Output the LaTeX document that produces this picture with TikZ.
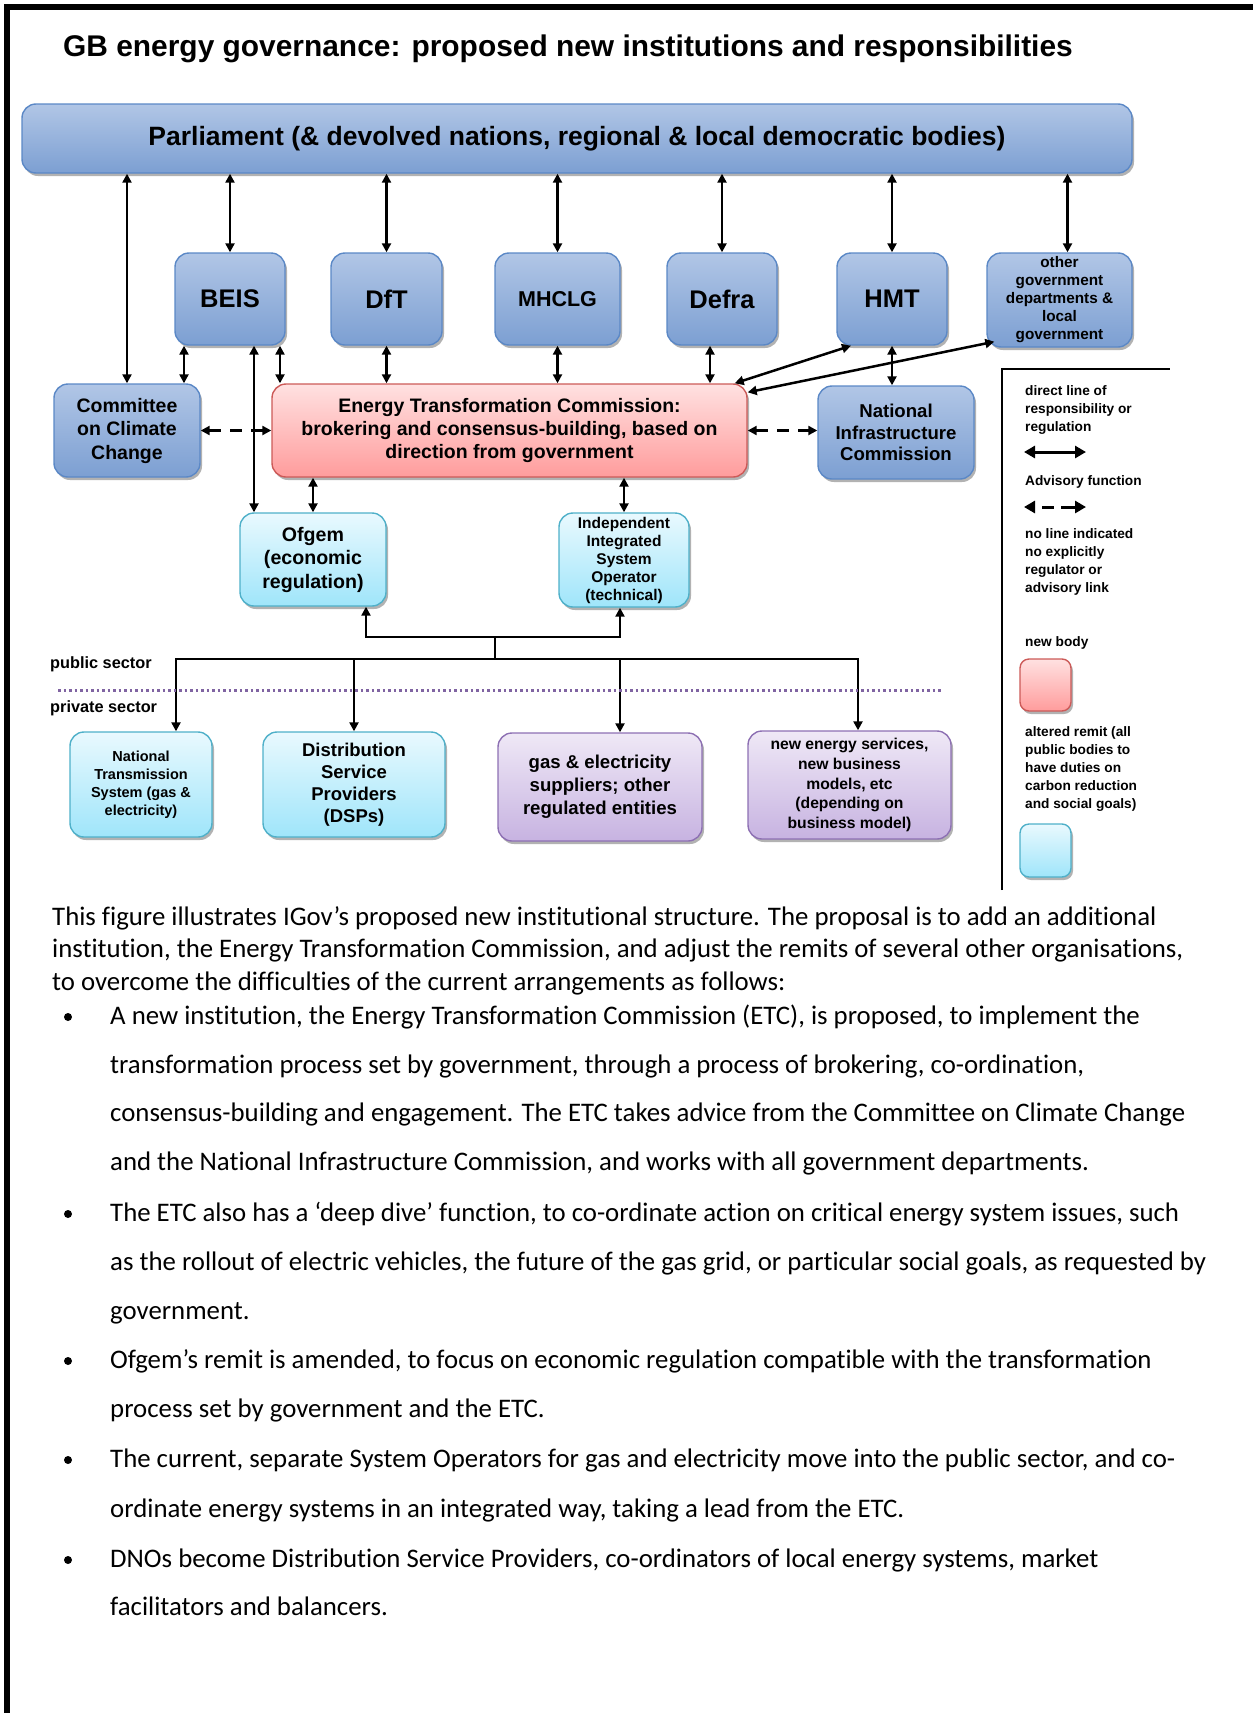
\documentclass[tikz,border=0pt]{standalone}
\usepackage{fontspec}
\setmainfont{Carlito}[Ligatures=NoCommon]
\newfontfamily\arialf{Liberation Sans}
\usetikzlibrary{arrows.meta,shadows}
\definecolor{bluetop}{HTML}{B1C6E6}
\definecolor{bluebot}{HTML}{7C9FD2}
\definecolor{blueedge}{HTML}{5B88C6}
\definecolor{redtop}{HTML}{FFE1E1}
\definecolor{redbot}{HTML}{FF9C9C}
\definecolor{rededge}{HTML}{CC5A58}
\definecolor{cyantop}{HTML}{E9F9FE}
\definecolor{cyanbot}{HTML}{9FE5FA}
\definecolor{cyanedge}{HTML}{4FB0C9}
\definecolor{purptop}{HTML}{EFE8F6}
\definecolor{purpbot}{HTML}{C7B3E1}
\definecolor{purpedge}{HTML}{8D70B3}
\definecolor{dotpurple}{HTML}{8064A2}
\newcommand{\myfs}[2]{\fontsize{#1}{#2}\selectfont}
\begin{document}
\begin{tikzpicture}[x=1pt,y=-1pt,
  >={Triangle[length=9pt,width=9pt]},
  box/.style={rounded corners=14pt, line width=1.4pt, align=center, inner sep=0pt, text=black,
    drop shadow={shadow xshift=2pt,shadow yshift=-3pt,opacity=0.3,fill=black}},
  bluebox/.style={box, draw=blueedge, top color=bluetop, bottom color=bluebot},
  redbox/.style={box, draw=rededge, top color=redtop, bottom color=redbot},
  cyanbox/.style={box, draw=cyanedge, top color=cyantop, bottom color=cyanbot},
  purpbox/.style={box, draw=purpedge, top color=purptop, bottom color=purpbot},
  dbl/.style={<->, line width=2.5pt},
  one/.style={->, line width=2.5pt},
  adv/.style={<->, line width=2.5pt, dash pattern=on 12pt off 9pt},
  legarrow/.style={{Triangle[length=11pt,width=12pt]}-{Triangle[length=11pt,width=12pt]}, line width=3pt},
  legtxt/.style={font=\arialf\bfseries\myfs{13.7}{18}, align=left, inner sep=0pt, anchor=west},
  sect/.style={font=\arialf\bfseries\myfs{16.3}{19}, inner sep=0pt, anchor=west},
  body/.style={font=\myfs{26.8}{32}, anchor=base west, inner sep=0pt},
  bul/.style={circle, fill=black, inner sep=0pt, minimum size=8pt},
]
\useasboundingbox (0,0) rectangle (1253,1713);
% page frame
\draw[line width=6pt] (7,1713) -- (7,7) -- (1253,7);

% title
\node[anchor=west, font=\arialf\bfseries\myfs{29.9}{35}, inner sep=0pt] (title) at (63,49)
  {GB energy governance: proposed new institutions and responsibilities};

% boxes
\node[bluebox, minimum width=1110pt, minimum height=69pt, font=\arialf\bfseries\myfs{26.5}{31}] (parl) at (577,138.5)
  {Parliament (\& devolved nations, regional \& local democratic bodies)};
\node[bluebox, minimum width=110pt, minimum height=92pt, font=\arialf\bfseries\myfs{25.5}{30}] (beis) at (230,299) {BEIS};
\node[bluebox, minimum width=111pt, minimum height=92pt, font=\arialf\bfseries\myfs{25.5}{30}] (dft) at (386.5,299) {DfT};
\node[bluebox, minimum width=125pt, minimum height=92pt, font=\arialf\bfseries\myfs{21.5}{26}] (mhclg) at (557.5,299) {MHCLG};
\node[bluebox, minimum width=110pt, minimum height=92pt, font=\arialf\bfseries\myfs{25.5}{30}] (defra) at (722,299) {Defra};
\node[bluebox, minimum width=110pt, minimum height=92pt, font=\arialf\bfseries\myfs{25.5}{30}] (hmt) at (892,299) {HMT};
\node[bluebox, minimum width=145pt, minimum height=94pt, font=\arialf\bfseries\myfs{15.3}{18}] (other) at (1059.5,300)
  {other\\government\\departments \&\\local\\government};
\node[bluebox, minimum width=146pt, minimum height=93pt, font=\arialf\bfseries\myfs{19.5}{23.5}] (ccc) at (127,430.5)
  {Committee\\on Climate\\Change};
\node[redbox, minimum width=475pt, minimum height=93pt, font=\arialf\bfseries\myfs{19.5}{23}] (etc) at (509.5,430.5)
  {Energy Transformation Commission:\\brokering and consensus-building, based on\\direction from government};
\node[bluebox, minimum width=156pt, minimum height=93pt, font=\arialf\bfseries\myfs{18.6}{21.5}] (nic) at (896,432.5)
  {National\\Infrastructure\\Commission};
\node[cyanbox, minimum width=146pt, minimum height=93pt, font=\arialf\bfseries\myfs{19.6}{23.5}] (ofgem) at (313,559.5)
  {Ofgem\\(economic\\regulation)};
\node[cyanbox, minimum width=130pt, minimum height=94pt, font=\arialf\bfseries\myfs{15.5}{18}] (iso) at (624,560)
  {Independent\\Integrated\\System\\Operator\\(technical)};
\node[cyanbox, minimum width=142pt, minimum height=105pt, font=\arialf\bfseries\myfs{14.5}{18}] (nts) at (141,784.5)
  {National\\Transmission\\System (gas \&\\electricity)};
\node[cyanbox, minimum width=182pt, minimum height=105pt, font=\arialf\bfseries\myfs{18.5}{22}] (dsp) at (354,784.5)
  {Distribution\\Service\\Providers\\(DSPs)};
\node[purpbox, minimum width=204pt, minimum height=108pt, font=\arialf\bfseries\myfs{18.6}{23}] (gas) at (600,787)
  {gas \& electricity\\suppliers; other\\regulated entities};
\node[purpbox, minimum width=203pt, minimum height=108pt, font=\arialf\bfseries\myfs{15.7}{19.7}] (nes) at (849.5,785)
  {new energy services,\\new business\\models, etc\\(depending on\\business model)};

% Parliament links
\foreach \n in {ccc,beis,dft,mhclg,defra,hmt}
  \draw[dbl] (parl.south -| \n.north) -- (\n.north);
\draw[dbl] ([xshift=8pt]other.north |- parl.south) -- ([xshift=8pt]other.north);

% department links
\draw[dbl] ([xshift=-46pt]beis.south) -- ([xshift=-46pt]beis.south |- ccc.north);
\draw[dbl] ([xshift=24pt]beis.south) -- ([xshift=24pt]beis.south |- ofgem.north);
\draw[dbl] ([xshift=50pt]beis.south) -- ([xshift=50pt]beis.south |- etc.north);
\draw[dbl] (dft.south) -- (dft.south |- etc.north);
\draw[dbl] (mhclg.south) -- (mhclg.south |- etc.north);
\draw[dbl] ([xshift=-12pt]defra.south) -- ([xshift=-12pt]defra.south |- etc.north);
\draw[dbl] (hmt.south) -- (hmt.south |- nic.north);
\draw[dbl] ([xshift=-41pt]hmt.south) -- ([xshift=-13pt]etc.north east);
\draw[dbl] ([xshift=8pt,yshift=6pt]other.south west) -- ([yshift=-9pt]etc.north east);

% advisory
\draw[adv] (ccc.east) -- (ccc.east -| etc.west);
\draw[adv] (etc.east) -- (etc.east -| nic.west);

% ETC to regulators
\draw[dbl] (etc.south -| ofgem.north) -- (ofgem.north);
\draw[dbl] (etc.south -| iso.north) -- (iso.north);

% tree
\coordinate (j1) at (495,637);
\coordinate (j2) at (495,659);
\draw[line width=2.5pt] (j2) -- (j1);
\draw[one] (j1) -| ([xshift=53pt]ofgem.south);
\draw[one] (j1) -| ([xshift=-4pt]iso.south);
\draw[one] (j2) -| ([xshift=35pt]nts.north);
\draw[one] (j2) -| (dsp.north);
\draw[one] (j2) -| ([xshift=20pt]gas.north);
\draw[one] (j2) -| ([xshift=8.5pt]nes.north);

% sector divide
\coordinate (d1) at (58,690);
\coordinate (d2) at (941,690);
\draw[dotpurple, line width=3pt, dash pattern=on 2.5pt off 3pt] (d1) -- (d2);
\node[sect] (pub) at (50,664) {public sector};
\node[sect] (priv) at (50,708) {private sector};

% legend
\draw[line width=1.5pt] (1002,890) -- (1002,369) -- (1170,369);
\node[legtxt] (lg1) at (1025,410) {direct line of\\responsibility or\\regulation};
\coordinate (la1) at (1024,452);
\coordinate (la2) at (1086,452);
\draw[legarrow] (la1) -- (la2);
\node[legtxt] (lg2) at (1025,482) {Advisory function};
\coordinate (lb1) at (1024,507);
\coordinate (lb2) at (1086,507);
\draw[legarrow, dash pattern=on 0pt off 8pt on 12pt off 7pt on 16pt off 0pt] (lb1) -- (lb2);
\node[legtxt] (lg3) at (1025,562) {no line indicated\\no explicitly\\regulator or\\advisory link};
\node[legtxt] (lg4) at (1025,643) {new body};
\node[redbox, rounded corners=9pt, minimum width=51pt, minimum height=52pt] (lgred) at (1045.5,685) {};
\node[legtxt] (lg5) at (1025,769) {altered remit (all\\public bodies to\\have duties on\\carbon reduction\\and social goals)};
\node[cyanbox, rounded corners=9pt, minimum width=51pt, minimum height=53pt] (lgcyan) at (1045.5,850.5) {};

% body text
\node[body] (t1) at (52,925) {This figure illustrates IGov’s proposed new institutional structure. The proposal is to add an additional};
\node[body] (t2) at (52,957) {institution, the Energy Transformation Commission, and adjust the remits of several other organisations,};
\node[body] (t3) at (52,990) {to overcome the difficulties of the current arrangements as follows:};

\node[bul] (b1) at (68,1017) {};
\node[body] (s1) at (110,1024) {A new institution, the Energy Transformation Commission (ETC), is proposed, to implement the};
\node[body] (s2) at (110,1073) {transformation process set by government, through a process of brokering, co-ordination,};
\node[body] (s3) at (110,1121) {consensus-building and engagement. The ETC takes advice from the Committee on Climate Change};
\node[body] (s4) at (110,1170) {and the National Infrastructure Commission, and works with all government departments.};

\node[bul] (b2) at (68,1214) {};
\node[body] (s5) at (110,1221) {The ETC also has a ‘deep dive’ function, to co-ordinate action on critical energy system issues, such};
\node[body] (s6) at (110,1270) {as the rollout of electric vehicles, the future of the gas grid, or particular social goals, as requested by};
\node[body] (s7) at (110,1319) {government.};

\node[bul] (b3) at (68,1361) {};
\node[body] (s8) at (110,1368) {Ofgem’s remit is amended, to focus on economic regulation compatible with the transformation};
\node[body] (s9) at (110,1417) {process set by government and the ETC.};

\node[bul] (b4) at (68,1460) {};
\node[body] (s10) at (110,1467) {The current, separate System Operators for gas and electricity move into the public sector, and co-};
\node[body] (s11) at (110,1517) {ordinate energy systems in an integrated way, taking a lead from the ETC.};

\node[bul] (b5) at (68,1560) {};
\node[body] (s12) at (110,1567) {DNOs become Distribution Service Providers, co-ordinators of local energy systems, market};
\node[body] (s13) at (110,1615) {facilitators and balancers.};
\end{tikzpicture}
\end{document}
